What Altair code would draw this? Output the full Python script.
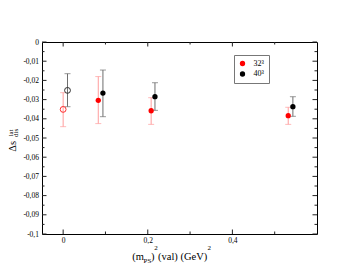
import altair as alt
import pandas as pd

# ---- data ----
series = ["32³", "40³"]
point_colors = ["#ff0000", "#000000"]
bar_colors = ["#ff9c9c", "#6e6e6e"]
open_colors = ["#ff3030", "#303030"]

x_32 = [0.0, 0.083, 0.208, 0.532]
y_32 = [-0.0351, -0.0304, -0.0358, -0.0384]
lo_32 = [-0.0441, -0.0425, -0.0429, -0.0429]
hi_32 = [-0.0264, -0.0180, -0.0290, -0.0340]
open_32 = [True, False, False, False]

x_40 = [0.0103, 0.094, 0.217, 0.543]
y_40 = [-0.0252, -0.0266, -0.0285, -0.0337]
lo_40 = [-0.0337, -0.0389, -0.0356, -0.0387]
hi_40 = [-0.0165, -0.0146, -0.0212, -0.0285]
open_40 = [True, False, False, False]

y_major = [0.0, -0.01, -0.02, -0.03, -0.04, -0.05, -0.06, -0.07, -0.08, -0.09, -0.1]
y_minor = [-0.005, -0.015, -0.025, -0.035, -0.045, -0.055, -0.065, -0.075, -0.085, -0.095]
x_major = [0.0, 0.2, 0.4]
x_minor = [0.1, 0.3, 0.5]
x_domain = [-0.05, 0.6]
y_domain = [-0.1, 0.0]

W, H = 275, 192

rows = []
for s, xs_, ys_, los, his, ops in [
    (series[0], x_32, y_32, lo_32, hi_32, open_32),
    (series[1], x_40, y_40, lo_40, hi_40, open_40),
]:
    for a, b, c, d, e in zip(xs_, ys_, los, his, ops):
        rows.append({"series": s, "x": a, "y": b, "lo": c, "hi": d, "open": e})
df = pd.DataFrame(rows)

xs = alt.Scale(domain=x_domain, nice=False, zero=False)
ys = alt.Scale(domain=y_domain, nice=False, zero=False)

FONT = "Liberation Serif"
label_expr = "replace(replace(format(datum.value, '.2~f'), '.', ','), '−', '-')"

axis_common = dict(domain=False, ticks=False, grid=False, title=None,
                   labelOverlap=False, labelBound=False,
                   labelExpr=label_expr, labelFont=FONT, labelFontSize=7.5,
                   labelColor="black")
x_axis = alt.Axis(values=x_major, labelPadding=2, labelFlush=False, **axis_common)
y_axis = alt.Axis(values=y_major, labelPadding=3.5, **axis_common)


def X(f):
    return alt.X(f, scale=xs, title=None, axis=x_axis)


def Y(f):
    return alt.Y(f, scale=ys, title=None, axis=y_axis)


layers = []

# error bars and caps per series
for s, bc in zip(series, bar_colors):
    base = alt.Chart(df).transform_filter(alt.datum.series == s)
    layers.append(base.mark_rule(strokeWidth=1).encode(
        x=X("x:Q"), y=Y("lo:Q"), y2="hi:Q", stroke=alt.value(bc)))
    for f in ["lo", "hi"]:
        layers.append(base.mark_tick(orient="horizontal", size=6, thickness=1).encode(
            x=X("x:Q"), y=Y(f + ":Q"), color=alt.value(bc)))

# open points
for s, oc in zip(series, open_colors):
    layers.append(alt.Chart(df).transform_filter((alt.datum.series == s) & (alt.datum.open == True))
                  .mark_point(filled=False, size=34, strokeWidth=1, opacity=1).encode(
        x=X("x:Q"), y=Y("y:Q"), stroke=alt.value(oc)))

# filled points with legend
layers.append(alt.Chart(df).transform_filter(alt.datum.open == False)
              .mark_point(filled=True, size=28, opacity=1).encode(
    x=X("x:Q"), y=Y("y:Q"),
    color=alt.Color("series:N", scale=alt.Scale(domain=series, range=point_colors),
                    legend=alt.Legend(title=None, orient="none", legendX=192, legendY=13,
                                      padding=4.5, strokeColor="#777", fillColor="white",
                                      symbolType="circle", symbolSize=28, symbolStrokeWidth=0,
                                      labelFont=FONT, labelFontSize=8, labelColor="black",
                                      labelOffset=7, rowPadding=2.5, cornerRadius=0))))


# inward ticks on all four sides
def yticks(vals, length):
    d = pd.DataFrame({"v": vals})
    out = []
    for x0, x1 in [(0, length), (W - length, W)]:
        out.append(alt.Chart(d).mark_rule(color="#222", strokeWidth=1).encode(
            y=Y("v:Q"), x=alt.value(x0), x2=alt.value(x1)))
    return out


def xticks(vals, length):
    d = pd.DataFrame({"v": vals})
    out = []
    for y0, y1 in [(0, length), (H - length, H)]:
        out.append(alt.Chart(d).mark_rule(color="#222", strokeWidth=1).encode(
            x=X("v:Q"), y=alt.value(y0), y2=alt.value(y1)))
    return out


layers += yticks(y_major, 4.5) + yticks(y_minor, 2.5)
layers += xticks(x_major, 4.5) + xticks(x_minor, 2.5)

# axis titles built from text pieces (sub/superscripts)
one = pd.DataFrame({"a": [0]})


def txt(s, px, py, size, angle=0):
    m = dict(font=FONT, fontSize=size, align="left", baseline="alphabetic", color="black")
    if angle:
        m["angle"] = angle
    return alt.Chart(one).mark_text(**m).encode(
        x=alt.value(px), y=alt.value(py), text=alt.value(s))


layers += [
    txt("(m", 90.3, 217.5, 10.5),
    txt("PS", 101.5, 220.5, 7),
    txt(")", 109, 217.5, 10.5),
    txt("2", 112.3, 207.5, 7),
    txt("(val) (GeV)", 116, 217.5, 10.5),
    txt("2", 165.5, 207.5, 7),
    txt("Δs", -26.5, 109.7, 10.5, 270),
    txt("lat", -29, 94.5, 7, 270),
    txt("dis", -24.5, 95, 7, 270),
]

chart = alt.layer(*layers).properties(
    width=W, height=H,
    autosize=alt.AutoSizeParams(type="none"),
    padding={"left": 34, "top": 34, "right": 20, "bottom": 30},
).configure_view(stroke="black", strokeWidth=1).configure_axis(labelOverlap=False)

chart.save("out.html", embed_options={"renderer": "svg", "actions": False})
